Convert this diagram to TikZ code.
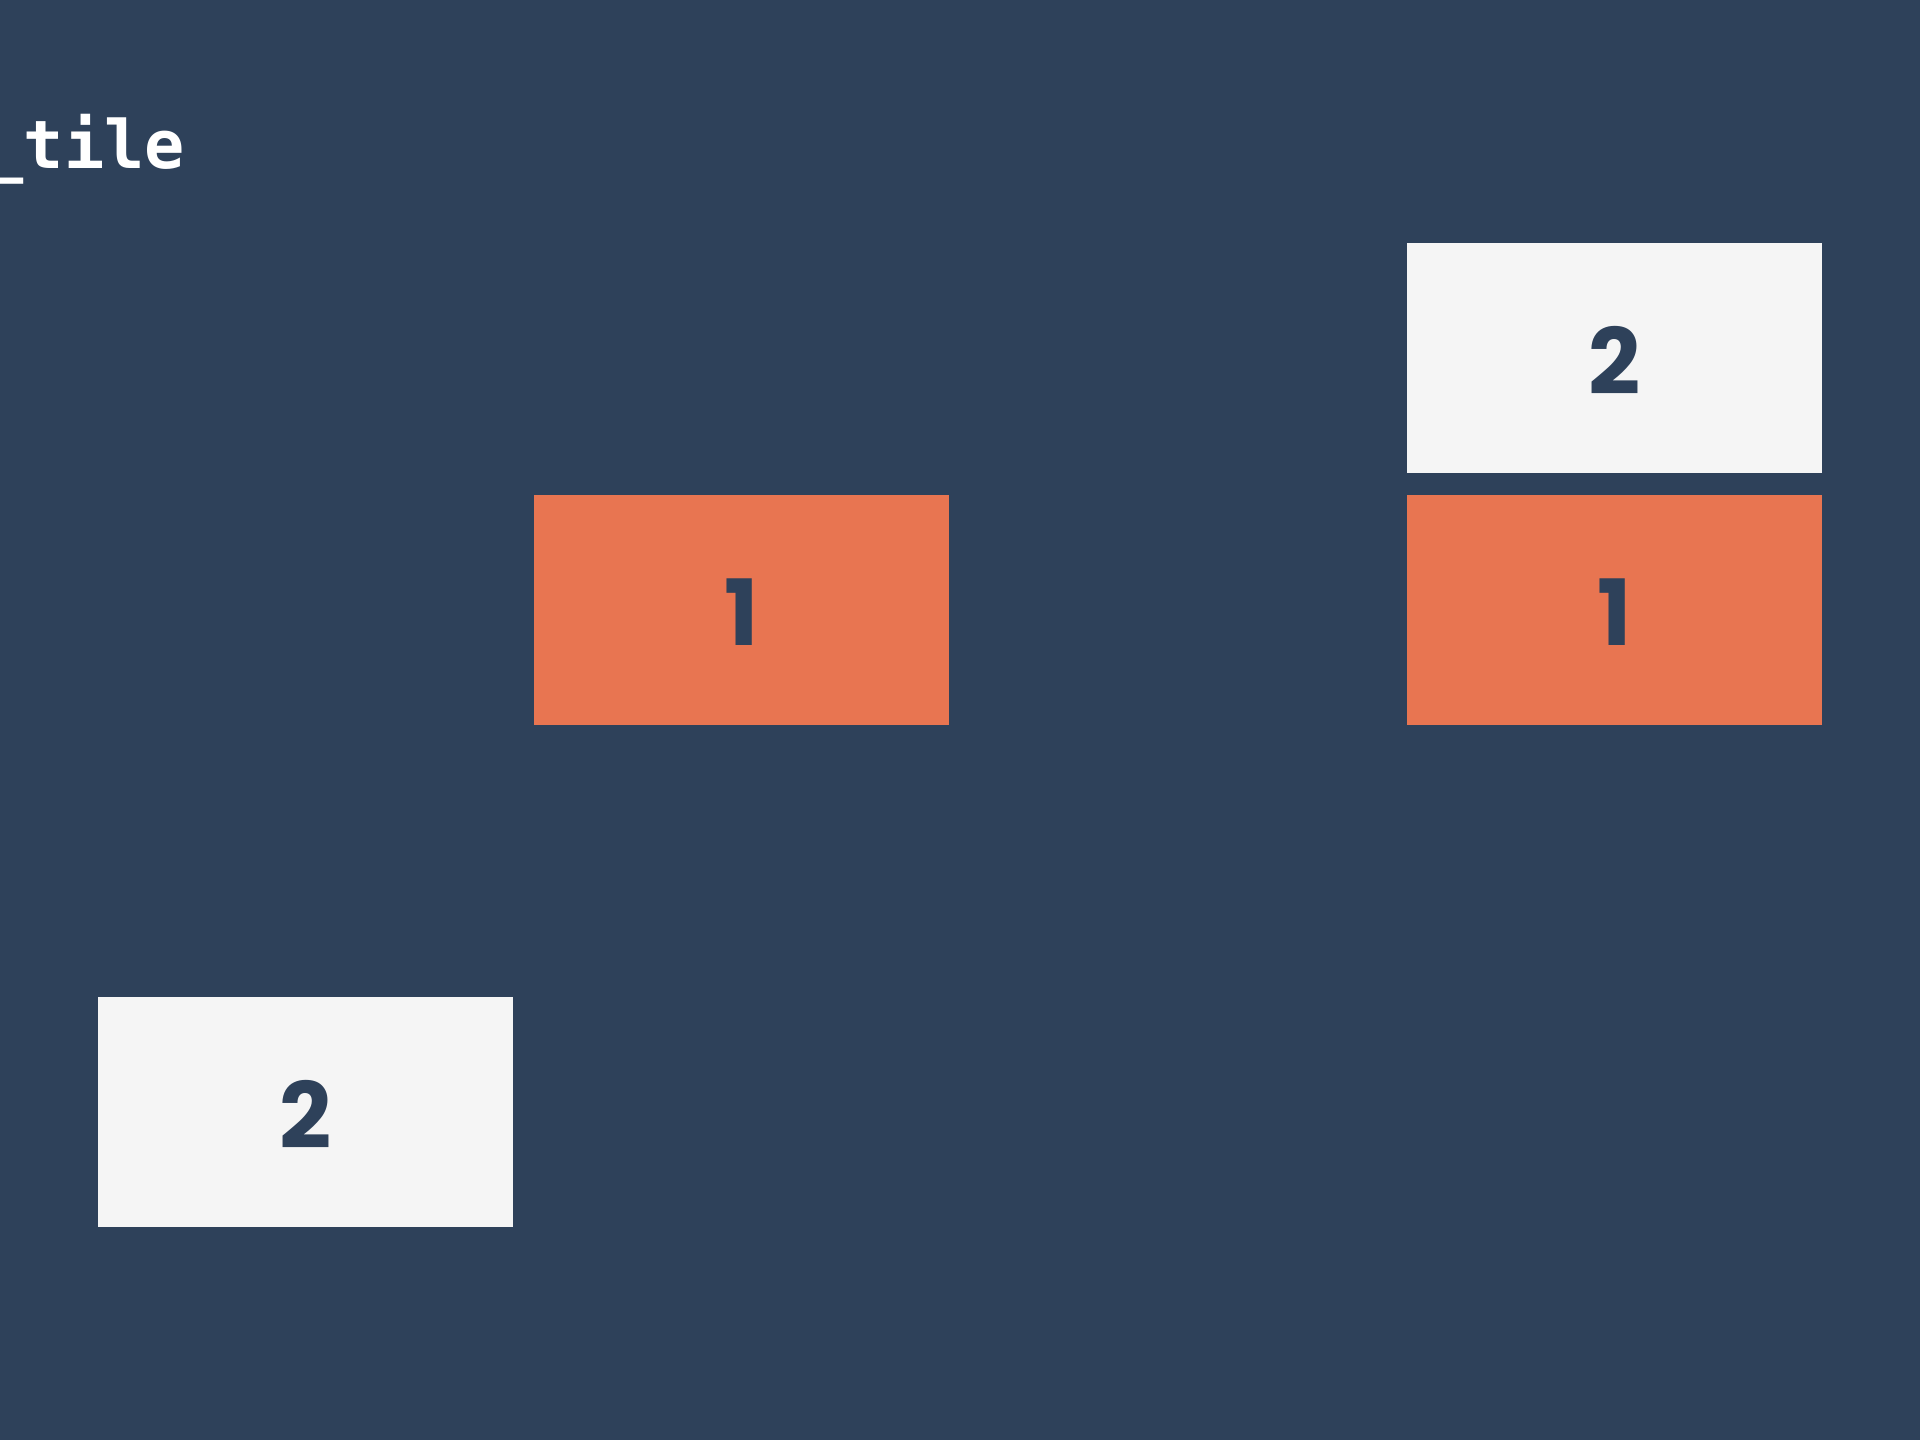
\documentclass[tikz,border=0pt]{standalone}
\usepackage{fontspec}
\usepackage{xcolor}
\newfontfamily\digitfont{Poppins}
\newfontfamily\codefont{DejaVu Sans Mono}
\definecolor{slate}{HTML}{2E415A}
\definecolor{coral}{HTML}{E87551}
\definecolor{paper}{HTML}{F5F5F5}
\tikzset{
  tile/.style={rectangle, inner sep=0pt, minimum width=4.15cm, minimum height=2.3cm,
    text height=0.72cm, text depth=0pt,
    text=slate, font=\digitfont\bfseries\fontsize{26}{26}\selectfont},
  coraltile/.style={tile, fill=coral},
  papertile/.style={tile, fill=paper}
}

\begin{document}
\begin{tikzpicture}
\useasboundingbox (0,0) rectangle (19.2,14.4);
\fill[slate] (0,0) rectangle (19.2,14.4);

\node[anchor=base west, inner sep=0pt, text=white, font=\codefont\bfseries\fontsize{19}{19}\selectfont] (title) at (-0.17,12.71) {\_tile};

% placed tile
\node[coraltile] (one) at (7.415,8.3) {1};

% stacked tiles
\node[papertile] (twotop) at (16.145,10.815) {2};
\node[coraltile] (oneright) at (16.145,8.3) {1};

% tile waiting below
\node[papertile] (twolow) at (3.055,3.28) {2};
\end{tikzpicture}
\end{document}
